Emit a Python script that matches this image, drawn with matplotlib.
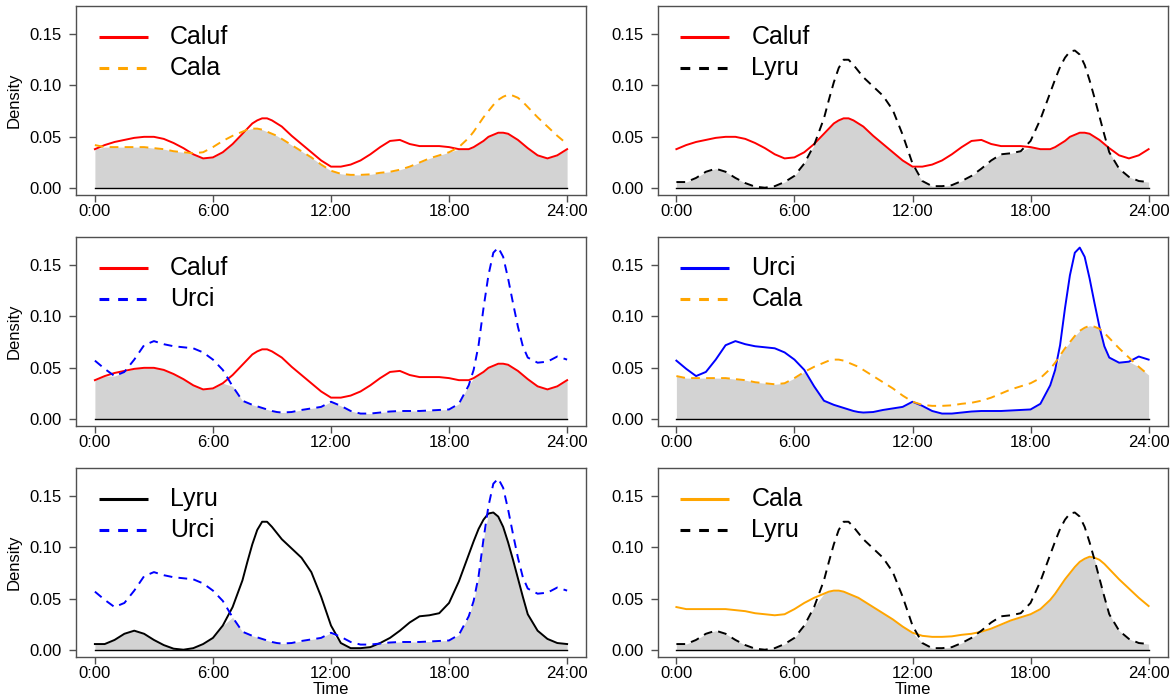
import matplotlib
matplotlib.use("Agg")
import matplotlib.pyplot as plt
import numpy as np

plt.rcParams["font.family"] = ["Liberation Sans", "DejaVu Sans"]

# Time of day (hours); finer steps around the morning and evening peaks
hours = [0, 0.5, 1, 1.5, 2, 2.5, 3, 3.5, 4, 4.5,
         5, 5.5, 6, 6.5, 7, 7.5,
         7.75, 8, 8.25, 8.5, 8.75, 9, 9.25, 9.5,
         10, 10.5, 11, 11.5, 12, 12.5, 13, 13.5, 14, 14.5,
         15, 15.5, 16, 16.5, 17, 17.5, 18, 18.5, 19,
         19.25, 19.5, 19.75, 20, 20.25, 20.5, 20.75, 21, 21.25, 21.5, 21.75, 22,
         22.5, 23, 23.5, 24]

# Kernel activity densities per species
caluf = [0.038, 0.042, 0.045, 0.047, 0.049, 0.050, 0.050, 0.048, 0.044, 0.039,
         0.033, 0.029, 0.030, 0.035, 0.043, 0.053,
         0.058, 0.063, 0.066, 0.068, 0.068, 0.066, 0.063, 0.060,
         0.051, 0.043, 0.035, 0.027, 0.021, 0.021, 0.023, 0.027, 0.033, 0.040,
         0.046, 0.047, 0.043, 0.041, 0.041, 0.041, 0.040, 0.038, 0.038,
         0.040, 0.043, 0.046, 0.050, 0.052, 0.054, 0.054, 0.053, 0.050, 0.047, 0.043, 0.039,
         0.032, 0.029, 0.032, 0.038]

cala = [0.042, 0.040, 0.040, 0.040, 0.040, 0.040, 0.039, 0.038, 0.036, 0.035,
        0.034, 0.035, 0.040, 0.046, 0.051, 0.055,
        0.057, 0.058, 0.058, 0.057, 0.055, 0.053, 0.051, 0.048,
        0.042, 0.036, 0.030, 0.023, 0.017, 0.014, 0.013, 0.013, 0.0135, 0.015,
        0.016, 0.018, 0.021, 0.025, 0.029, 0.032, 0.035, 0.040, 0.049,
        0.055, 0.062, 0.069, 0.075, 0.081, 0.086, 0.089, 0.091, 0.090, 0.088, 0.084, 0.079,
        0.069, 0.060, 0.051, 0.043]

lyru = [0.006, 0.006, 0.010, 0.016, 0.019, 0.016, 0.010, 0.005, 0.0015, 0.0005,
        0.002, 0.006, 0.012, 0.024, 0.042, 0.068,
        0.086, 0.103, 0.117, 0.125, 0.125, 0.120, 0.114, 0.108,
        0.099, 0.090, 0.076, 0.052, 0.024, 0.007, 0.002, 0.002, 0.003, 0.007,
        0.012, 0.019, 0.027, 0.033, 0.034, 0.036, 0.046, 0.067, 0.093,
        0.106, 0.118, 0.127, 0.133, 0.134, 0.130, 0.120, 0.105, 0.088, 0.070, 0.052, 0.035,
        0.019, 0.011, 0.007, 0.006]

urci = [0.057, 0.049, 0.042, 0.046, 0.058, 0.072, 0.076, 0.073, 0.071, 0.070,
        0.069, 0.065, 0.058, 0.048, 0.032, 0.018,
        0.016, 0.014, 0.0125, 0.011, 0.0095, 0.008, 0.007, 0.0065,
        0.007, 0.009, 0.0105, 0.012, 0.017, 0.013, 0.008, 0.0055, 0.0055, 0.0065,
        0.0075, 0.008, 0.008, 0.008, 0.0085, 0.009, 0.0095, 0.015, 0.033,
        0.048, 0.072, 0.108, 0.140, 0.162, 0.167, 0.158, 0.137, 0.113, 0.090, 0.071, 0.060,
        0.055, 0.056, 0.061, 0.058]

species = {"Caluf": caluf, "Cala": cala, "Lyru": lyru, "Urci": urci}
colors = {"Caluf": "#FF0000", "Cala": "#FFA500", "Lyru": "#000000", "Urci": "#0000FF"}

# (solid species, dashed species) for each panel, row by row
pairs = [("Caluf", "Cala"), ("Caluf", "Lyru"),
         ("Caluf", "Urci"), ("Urci", "Cala"),
         ("Lyru", "Urci"), ("Cala", "Lyru")]

tick_hours = [0, 6, 12, 18, 24]
tick_labels = ["0:00", "6:00", "12:00", "18:00", "24:00"]
density_ticks = [0.00, 0.05, 0.10, 0.15]

fig = plt.figure(figsize=(11.75, 7), dpi=100)
col_left = [76 / 1175, 657.5 / 1175]
ax_w = 510 / 1175
ax_h = 189 / 700
row_bottom = [1 - 195 / 700, 1 - 426 / 700, 1 - 657 / 700]

x = np.array(hours)
edge = "#505050"

for i, (a, b) in enumerate(pairs):
    r, c = divmod(i, 2)
    ax = fig.add_axes([col_left[c], row_bottom[r], ax_w, ax_h])
    ya = np.array(species[a])
    yb = np.array(species[b])
    overlap = np.minimum(ya, yb)
    ax.fill_between(x, 0, overlap, color="#D3D3D3", linewidth=0)
    ax.plot([x[0], x[-1]], [0, 0], color="black", lw=1.0)
    ax.plot(x, ya, color=colors[a], lw=1.4, solid_joinstyle="round")
    ax.plot(x, yb, color=colors[b], lw=1.4, dashes=(4.5, 3.2),
            dash_joinstyle="round")

    ax.set_xlim(-0.96, 24.96)
    ax.set_ylim(-0.0066, 0.1773)
    ax.set_xticks(tick_hours)
    ax.set_xticklabels(tick_labels)
    ax.set_yticks(density_ticks)
    ax.set_yticklabels([f"{v:.2f}" for v in density_ticks])
    ax.tick_params(axis="both", labelsize=12, length=5, width=1,
                   color=edge, direction="out")
    ax.tick_params(axis="x", pad=1.5)
    ax.tick_params(axis="y", pad=5)
    for s in ax.spines.values():
        s.set_color(edge)
        s.set_linewidth(1.0)

    if c == 0:
        ax.set_ylabel("Density", fontsize=12, labelpad=6)
    if r == 2:
        ax.set_xlabel("Time", fontsize=12, labelpad=1)

    # key in the upper left corner
    ax.plot([0.045, 0.141], [0.834, 0.834], transform=ax.transAxes,
            color=colors[a], lw=2.2, solid_capstyle="butt")
    ax.plot([0.045, 0.141], [0.670, 0.670], transform=ax.transAxes,
            color=colors[b], lw=2.2, dashes=(3.2, 2.9))
    ax.text(0.184, 0.834, a, transform=ax.transAxes, fontsize=18,
            va="center", ha="left")
    ax.text(0.184, 0.670, b, transform=ax.transAxes, fontsize=18,
            va="center", ha="left")

fig.savefig("out.png", dpi=100)
